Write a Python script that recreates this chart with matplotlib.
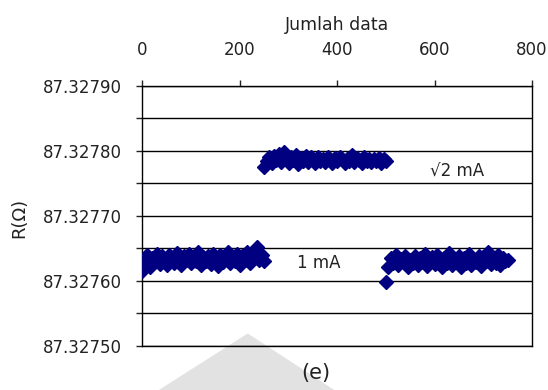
import matplotlib
matplotlib.use('Agg')
from matplotlib import pyplot as plt
from matplotlib.ticker import MultipleLocator, FormatStrFormatter
from matplotlib.patches import Polygon
import numpy as np

# resistance readings, sampled every 5th data point
# 1 mA, first run (data 0..250)
r_1ma_a = [87.327615, 87.327628, 87.327640, 87.327622, 87.327636, 87.327630, 87.327642, 87.327626, 87.327638, 87.327632,
           87.327624, 87.327640, 87.327634, 87.327628, 87.327643, 87.327630, 87.327625, 87.327638, 87.327633, 87.327641,
           87.327627, 87.327636, 87.327630, 87.327644, 87.327624, 87.327637, 87.327631, 87.327639, 87.327626, 87.327642,
           87.327634, 87.327623, 87.327640, 87.327629, 87.327636, 87.327645, 87.327627, 87.327635, 87.327630, 87.327641,
           87.327625, 87.327638, 87.327632, 87.327644, 87.327628, 87.327637, 87.327646, 87.327652, 87.327633, 87.327640,
           87.327630]
# sqrt(2) mA (data 250..500)
r_2ma = [87.327776, 87.327784, 87.327790, 87.327781, 87.327792, 87.327786, 87.327795, 87.327783, 87.327798, 87.327788,
         87.327782, 87.327791, 87.327786, 87.327793, 87.327780, 87.327789, 87.327785, 87.327792, 87.327783, 87.327790,
         87.327787, 87.327781, 87.327791, 87.327785, 87.327788, 87.327783, 87.327790, 87.327786, 87.327782, 87.327789,
         87.327784, 87.327791, 87.327787, 87.327781, 87.327788, 87.327785, 87.327793, 87.327783, 87.327789, 87.327786,
         87.327782, 87.327790, 87.327785, 87.327788, 87.327783, 87.327787, 87.327784, 87.327789, 87.327782, 87.327787,
         87.327785]
# 1 mA, second run (data 500..750)
r_1ma_b = [87.327598, 87.327622, 87.327636, 87.327628, 87.327640, 87.327624, 87.327634, 87.327630, 87.327638, 87.327621,
           87.327632, 87.327627, 87.327639, 87.327625, 87.327635, 87.327629, 87.327641, 87.327623, 87.327633, 87.327637,
           87.327626, 87.327640, 87.327630, 87.327622, 87.327636, 87.327628, 87.327643, 87.327624, 87.327634, 87.327631,
           87.327638, 87.327621, 87.327635, 87.327627, 87.327641, 87.327625, 87.327632, 87.327629, 87.327639, 87.327623,
           87.327637, 87.327630, 87.327644, 87.327626, 87.327634, 87.327628, 87.327640, 87.327624, 87.327636, 87.327630,
           87.327633]

n_a = np.arange(0, 255, 5)
n_b = np.arange(250, 505, 5)
n_c = np.arange(500, 755, 5)

plt.rcParams['font.family'] = 'DejaVu Sans'
fig = plt.figure(figsize=(5.48, 3.90), dpi=100)
ax = fig.add_axes([0.260, 0.1128, 0.711, 0.667])
ax.patch.set_alpha(0)

# faint watermark behind the chart
wm = Polygon([(0.29, 0.0), (0.452, 0.145), (0.61, 0.0)], closed=True,
             transform=fig.transFigure, facecolor='#e2e2e2', edgecolor='none', zorder=-5)
fig.patches.append(wm)

mk = dict(ls='none', marker='D', ms=7, color='#000080', mec='#000080', zorder=3)
ax.plot(n_a, r_1ma_a, **mk)
ax.plot(n_b, r_2ma, **mk)
ax.plot(n_c, r_1ma_b, **mk)

ax.set_xlim(0, 800)
ax.set_ylim(87.3275, 87.3279)
ax.xaxis.set_major_locator(MultipleLocator(200))
ax.yaxis.set_major_locator(MultipleLocator(0.0001))
ax.yaxis.set_minor_locator(MultipleLocator(0.00005))
ax.yaxis.set_major_formatter(FormatStrFormatter('%.5f'))

ax.xaxis.tick_top()
ax.xaxis.set_label_position('top')
ax.tick_params(axis='x', direction='out', length=4, width=1, pad=15, labelsize=12, colors='#222222')
ax.tick_params(axis='y', which='both', direction='out', length=4.5, width=1, pad=10, labelsize=12, colors='#222222')
ax.tick_params(axis='y', which='minor', labelleft=False)
ax.grid(True, axis='y', which='both', color='black', lw=1)
for s in ax.spines.values():
    s.set_color('black')
    s.set_linewidth(1)

ax.set_xlabel('Jumlah data', fontsize=12.5, color='#222222', labelpad=8)
fig.text(19 / 548, 1 - 218 / 390, 'R(Ω)', rotation=90, ha='center', va='center', fontsize=13, color='#222222')

ax.text(590, 87.327768, '√2 mA', fontsize=12, va='center', color='#222222')
ax.text(318, 87.327628, '1 mA', fontsize=12, va='center', color='#222222')
fig.text(316 / 548, 1 - 373 / 390, '(e)', ha='center', va='center', fontsize=15, color='#222222')

fig.savefig('out.png', dpi=100)
